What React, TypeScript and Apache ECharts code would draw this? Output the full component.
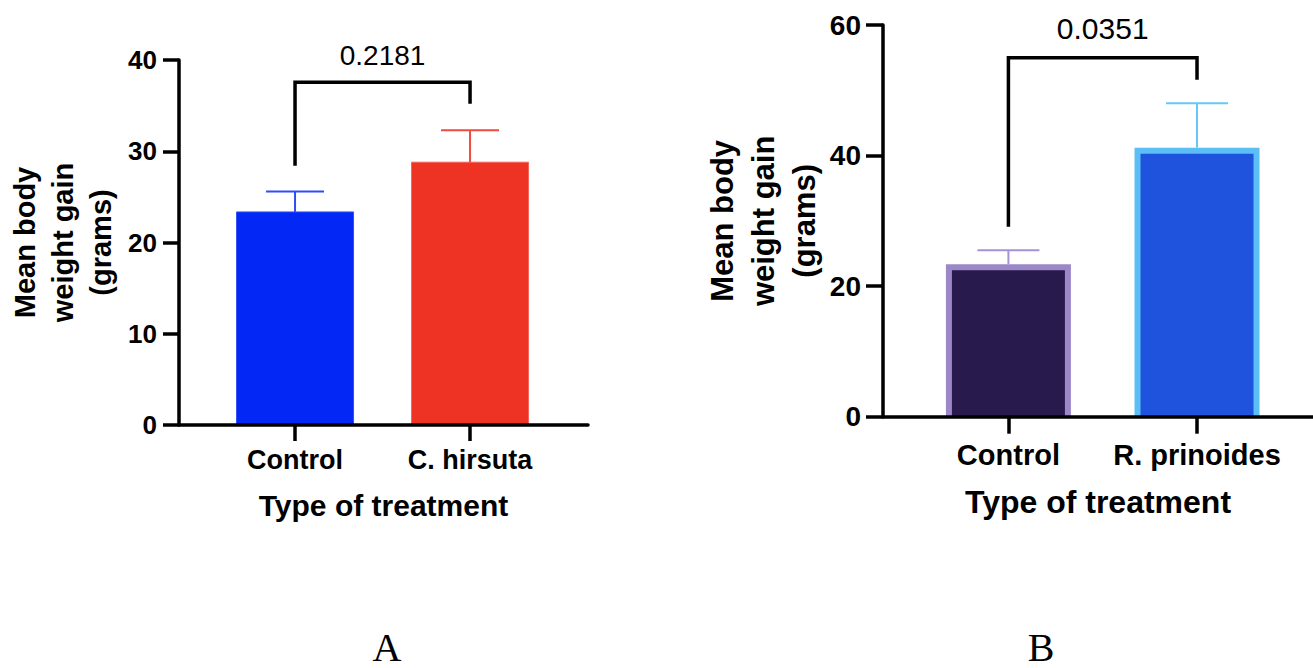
import React, { useEffect, useRef } from "react";
import * as echarts from "echarts";

// ---- Panel A data ----
const categoriesA = ["Control", "C. hirsuta"];
const meanA = [23.35, 28.8];
const upperA = [25.6, 32.3];
const bracketA = [28.4, 37.55, 35.2]; // left leg end, bracket level, right leg end
const pValueA = "0.2181";
const yMaxA = 40;
const yStepA = 10;

// ---- Panel B data ----
const categoriesB = ["Control", "R. prinoides"];
const meanB = [23.35, 41.2];
const upperB = [25.5, 48.0];
const bracketB = [29.1, 55.0, 51.6];
const pValueB = "0.0351";
const yMaxB = 60;
const yStepB = 20;

const panelLabels = ["A", "B"];

// ---- styles ----
const FONT = "'Liberation Sans', Arial, Helvetica, sans-serif";
const SERIF = "'Liberation Serif', 'Times New Roman', serif";
const fillA = ["#0327F5", "#EE3325"];
const edgeA = ["#3550F7", "#F2655B"];
const errA = ["#2F4DF6", "#EE4A40"];
const fillB = ["#281A4C", "#1F52DD"];
const borderB = ["#9C88C8", "#5BBEF5"];
const errB = ["#A690D8", "#66C8F6"];

function axisStyle(tickLen: number) {
  return {
    axisLine: { show: true, onZero: false, lineStyle: { color: "#000", width: 3.5 } },
    axisTick: { show: true, length: tickLen, lineStyle: { color: "#000", width: 3.5 } },
    splitLine: { show: false },
  };
}

function errorRender(width: number, colors: string[]) {
  return (params: any, api: any) => {
    const x = api.value(0);
    const p0 = api.coord([x, api.value(1)]);
    const p1 = api.coord([x, api.value(2)]);
    const c = colors[params.dataIndex];
    return {
      type: "group",
      children: [
        { type: "line", shape: { x1: p0[0], y1: p0[1], x2: p1[0], y2: p1[1] }, style: { stroke: c, lineWidth: 2 } },
        { type: "line", shape: { x1: p1[0] - width / 2, y1: p1[1], x2: p1[0] + width / 2, y2: p1[1] }, style: { stroke: c, lineWidth: 2 } },
      ],
    };
  };
}

function bracketRender(text: string, fontSize: number, textOffset: number) {
  return (params: any, api: any) => {
    const a = api.coord([api.value(0), api.value(2)]);
    const b = api.coord([api.value(0), api.value(3)]);
    const c = api.coord([api.value(1), api.value(3)]);
    const d = api.coord([api.value(1), api.value(4)]);
    return {
      type: "group",
      children: [
        {
          type: "polyline",
          shape: { points: [a, b, c, d] },
          style: { stroke: "#000", lineWidth: 3.5, fill: null, lineJoin: "miter" },
        },
        {
          type: "text",
          x: (b[0] + c[0]) / 2,
          y: b[1] - textOffset,
          style: {
            text,
            fill: "#000",
            fontSize,
            fontFamily: FONT,
            fontWeight: "normal",
            align: "center",
            verticalAlign: "middle",
          },
        },
      ],
    };
  };
}

export default function App() {
  const ref = useRef<HTMLDivElement>(null);

  useEffect(() => {
    if (!ref.current) return;
    const chart = echarts.init(ref.current, null, { renderer: "svg" });

    const option: any = {
      animation: false,
      backgroundColor: "#fff",
      grid: [
        { left: 179, top: 60, width: 409, height: 365 },
        { left: 883, top: 25, width: 430, height: 391.7 },
      ],
      xAxis: [
        {
          gridIndex: 0,
          type: "value",
          min: 0.337,
          max: 2.674,
          z: 10,
          ...axisStyle(16),
          axisTick: { show: true, customValues: [1, 2], length: 16, lineStyle: { color: "#000", width: 3.5 } },
          axisLabel: {
            customValues: [1, 2],
            formatter: (v: number) => categoriesA[Math.round(v) - 1],
            margin: 21,
            fontSize: 27,
            fontWeight: "bold",
            color: "#000",
            fontFamily: FONT,
          },
          name: "Type of treatment",
          nameLocation: "middle",
          nameGap: 65,
          nameTextStyle: { fontSize: 30, fontWeight: "bold", color: "#000", fontFamily: FONT },
        },
        {
          gridIndex: 1,
          type: "value",
          min: 0.335,
          max: 2.615,
          z: 10,
          ...axisStyle(17),
          axisTick: { show: true, customValues: [1, 2], length: 17, lineStyle: { color: "#000", width: 3.5 } },
          axisLabel: {
            customValues: [1, 2],
            formatter: (v: number) => categoriesB[Math.round(v) - 1],
            margin: 24,
            fontSize: 29,
            fontWeight: "bold",
            color: "#000",
            fontFamily: FONT,
          },
          name: "Type of treatment",
          nameLocation: "middle",
          nameGap: 69,
          nameTextStyle: { fontSize: 32, fontWeight: "bold", color: "#000", fontFamily: FONT },
        },
      ],
      yAxis: [
        {
          gridIndex: 0,
          type: "value",
          min: 0,
          max: yMaxA,
          interval: yStepA,
          z: 10,
          ...axisStyle(16),
          axisLabel: { margin: 22, fontSize: 26, fontWeight: "bold", color: "#000", fontFamily: FONT },
          name: "Mean body\nweight gain\n(grams)",
          nameLocation: "middle",
          nameRotate: 90,
          nameGap: 59,
          nameMoveOverlap: false,
          nameTextStyle: { fontSize: 29, fontWeight: "bold", color: "#000", fontFamily: FONT, lineHeight: 38, align: "center" },
        },
        {
          gridIndex: 1,
          type: "value",
          min: 0,
          max: yMaxB,
          interval: yStepB,
          z: 10,
          ...axisStyle(17),
          axisLabel: { margin: 22, fontSize: 28, fontWeight: "bold", color: "#000", fontFamily: FONT },
          name: "Mean body\nweight gain\n(grams)",
          nameLocation: "middle",
          nameRotate: 90,
          nameGap: 58,
          nameMoveOverlap: false,
          nameTextStyle: { fontSize: 31, fontWeight: "bold", color: "#000", fontFamily: FONT, lineHeight: 41, align: "center" },
        },
      ],
      series: [
        {
          type: "custom",
          xAxisIndex: 0,
          yAxisIndex: 0,
          data: meanA.map((m, i) => [i + 1, m]),
          renderItem: (params: any, api: any) => {
            const x = api.value(0);
            const top = api.coord([x, api.value(1)]);
            const base = api.coord([x, 0]);
            const w = 117;
            return {
              type: "rect",
              shape: { x: top[0] - w / 2, y: top[1], width: w, height: base[1] - top[1] },
              style: { fill: fillA[params.dataIndex], stroke: edgeA[params.dataIndex], lineWidth: 1 },
            };
          },
        },
        {
          type: "custom",
          xAxisIndex: 0,
          yAxisIndex: 0,
          data: meanA.map((m, i) => [i + 1, m, upperA[i]]),
          renderItem: errorRender(58, errA),
        },
        {
          type: "custom",
          xAxisIndex: 0,
          yAxisIndex: 0,
          data: [[1, 2, bracketA[0], bracketA[1], bracketA[2]]],
          renderItem: bracketRender(pValueA, 28, 27),
        },
        {
          type: "custom",
          xAxisIndex: 1,
          yAxisIndex: 1,
          data: meanB.map((m, i) => [i + 1, m]),
          renderItem: (params: any, api: any) => {
            const x = api.value(0);
            const top = api.coord([x, api.value(1)]);
            const base = api.coord([x, 0]);
            const w = 125;
            const b = 6;
            const i = params.dataIndex;
            return {
              type: "group",
              children: [
                {
                  type: "rect",
                  shape: { x: top[0] - w / 2, y: top[1], width: w, height: base[1] - top[1] },
                  style: { fill: borderB[i] },
                },
                {
                  type: "rect",
                  shape: { x: top[0] - w / 2 + b, y: top[1] + b, width: w - 2 * b, height: base[1] - top[1] - b },
                  style: { fill: fillB[i] },
                },
              ],
            };
          },
        },
        {
          type: "custom",
          xAxisIndex: 1,
          yAxisIndex: 1,
          data: meanB.map((m, i) => [i + 1, m, upperB[i]]),
          renderItem: errorRender(62, errB),
        },
        {
          type: "custom",
          xAxisIndex: 1,
          yAxisIndex: 1,
          data: [[1, 2, bracketB[0], bracketB[1], bracketB[2]]],
          renderItem: bracketRender(pValueB, 30, 29.5),
        },
      ],
      graphic: [
        {
          type: "text",
          x: 387,
          y: 647,
          style: { text: panelLabels[0], fill: "#000", fontSize: 40, fontFamily: SERIF, align: "center", verticalAlign: "middle" },
        },
        {
          type: "text",
          x: 1041,
          y: 647,
          style: { text: panelLabels[1], fill: "#000", fontSize: 40, fontFamily: SERIF, align: "center", verticalAlign: "middle" },
        },
      ],
    };

    chart.setOption(option);
    return () => chart.dispose();
  }, []);

  return (
    <div
      ref={ref}
      style={{ position: "absolute", left: 0, top: 0, width: 1313, height: 668, background: "#fff" }}
    />
  );
}
